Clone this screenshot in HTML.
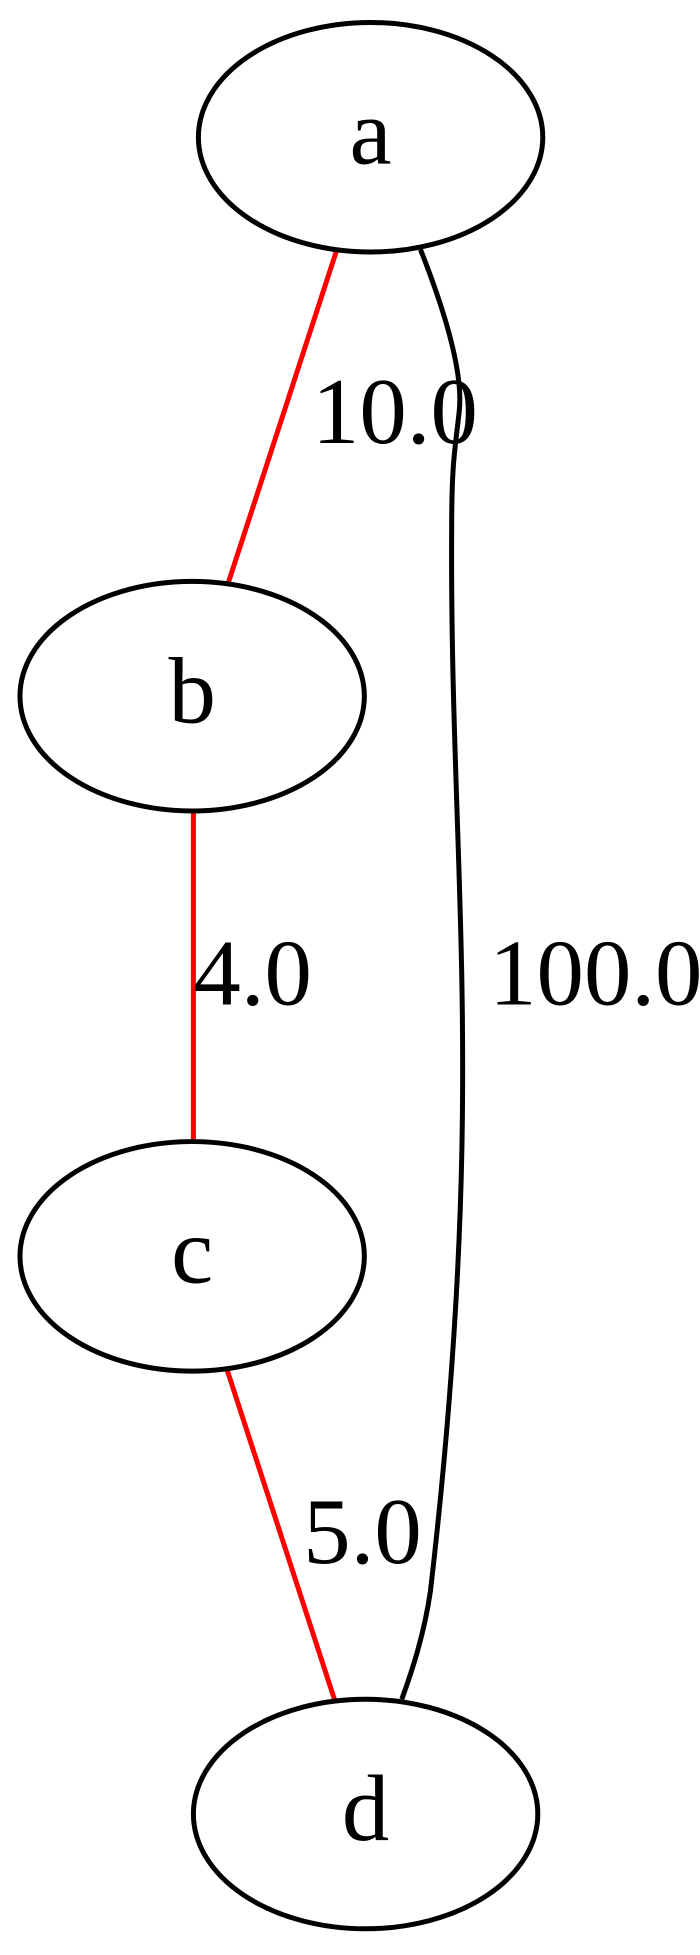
<!DOCTYPE html>
<html><head><meta charset="utf-8"><style>html,body{margin:0;padding:0;background:#fff;}svg{display:block}</style></head>
<body>
<svg width="700" height="1955" viewBox="0 0 561 1567" preserveAspectRatio="none" xmlns="http://www.w3.org/2000/svg" font-family="'Liberation Serif', serif" font-size="76">
<g fill="none" stroke-width="4">
<path d="M270,200 L183,467" stroke="#f00"/>
<path d="M155,650 L155,915" stroke="#f00"/>
<path d="M182,1098 L268,1362" stroke="#f00"/>
<path d="M337,200 C352,238 372,295 368,330 C365,358 362,370 362,420 C360,700 392,870 345,1275 C340,1310 330,1340 322,1362" stroke="#000"/>
<ellipse cx="297" cy="110" rx="138" ry="92" stroke="#000"/>
<ellipse cx="154" cy="558" rx="138" ry="92" stroke="#000"/>
<ellipse cx="154" cy="1007" rx="138" ry="92" stroke="#000"/>
<ellipse cx="293" cy="1454" rx="138" ry="92" stroke="#000"/>
</g>
<g fill="#000">
<text x="297" y="131" text-anchor="middle">a</text>
<text x="154" y="579" text-anchor="middle">b</text>
<text x="154" y="1028" text-anchor="middle">c</text>
<text x="293" y="1475" text-anchor="middle">d</text>
<text x="250" y="355">10.0</text>
<text x="155" y="805">4.0</text>
<text x="243" y="1253">5.0</text>
<text x="392" y="805">100.0</text>
</g>
</svg>
</body></html>
